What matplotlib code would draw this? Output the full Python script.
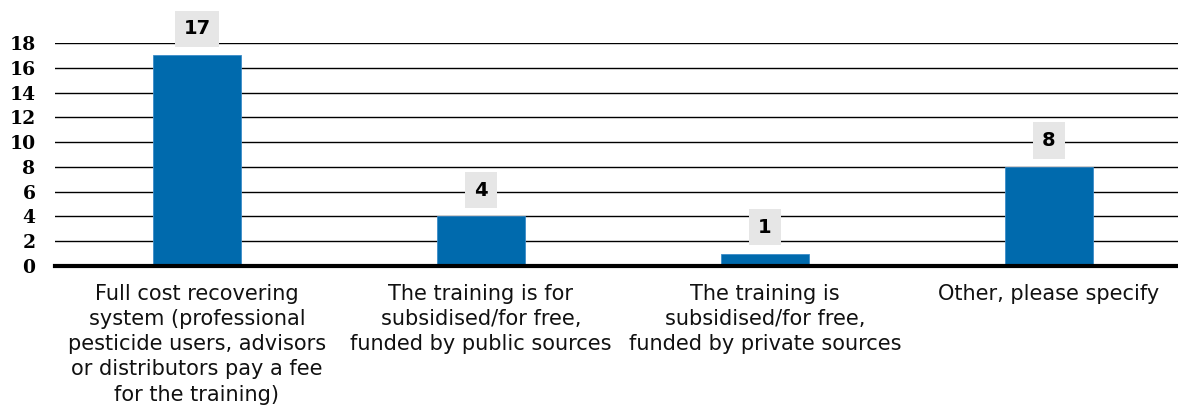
import matplotlib
matplotlib.use("Agg")
import matplotlib.pyplot as plt

categories = [
    "Full cost recovering\nsystem (professional\npesticide users, advisors\nor distributors pay a fee\nfor the training)",
    "The training is for\nsubsidised/for free,\nfunded by public sources",
    "The training is\nsubsidised/for free,\nfunded by private sources",
    "Other, please specify",
]
values = [17, 4, 1, 8]
yticks = [0, 2, 4, 6, 8, 10, 12, 14, 16, 18]

fig = plt.figure(figsize=(11.78, 4.08), dpi=100)
ax = fig.add_axes([55/1178, 142/408, 1136/1178, 223/408])

x = list(range(len(categories)))
ax.bar(x, values, width=0.31, color="#006AAD", edgecolor="#3C8CC8", linewidth=0.6, zorder=3)

ax.set_xlim(-0.5, 3.5)
ax.set_ylim(0, 18)
ax.set_yticks(yticks)
ax.set_yticklabels([str(t) for t in yticks], fontfamily="DejaVu Serif",
                   fontweight="bold", fontsize=13.5)
ax.tick_params(axis="y", length=0, pad=14)
for t in yticks[1:]:
    ax.axhline(t, color="black", linewidth=1.0, zorder=1)
ax.axhline(0, color="black", linewidth=3.0, zorder=4, clip_on=False)

ax.set_xticks(x)
ax.set_xticklabels(categories, fontfamily="DejaVu Sans", fontsize=15,
                   linespacing=1.32, va="top", color="#111111")
ax.tick_params(axis="x", length=0, pad=13)

for s in ax.spines.values():
    s.set_visible(False)

for xi, v in zip(x, values):
    ax.annotate(str(v), (xi, v), xytext=(0, 19), textcoords="offset points",
                ha="center", va="center", fontsize=14, fontweight="bold",
                fontfamily="DejaVu Sans", zorder=5,
                bbox=dict(boxstyle="square,pad=0.45", facecolor="#E6E6E6",
                          edgecolor="none"), annotation_clip=False)

fig.savefig("out.png", dpi=100)
